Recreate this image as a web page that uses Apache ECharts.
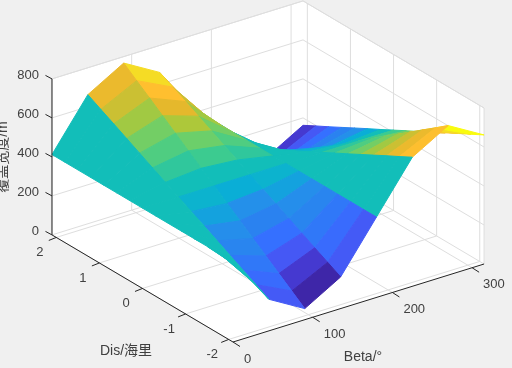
<!DOCTYPE html>
<html>
<head>
<meta charset="utf-8">
<title>覆盖宽度</title>
<style>
html, body { margin: 0; padding: 0; background: #f0f0f0; }
#main { width: 512px; height: 368px; }
</style>
<script src="https://cdn.jsdelivr.net/npm/echarts@6/dist/echarts.min.js"></script>
</head>
<body>
<div id="main"></div>
<script>
// 表面数据: 每个 beta 一列, 从 dis=-2.1 到 dis=2.1
var beta = [0, 45, 90, 135, 180, 225, 270, 315];
var dis = [-2.1, -1.8, -1.5, -1.2, -0.9, -0.6, -0.3, 0, 0.3, 0.6, 0.9, 1.2, 1.5, 1.8, 2.1];
var width0 = [412, 412, 412, 412, 412, 412, 412, 412, 412, 412, 412, 412, 412, 412, 412];
var width45 = [162, 198, 233, 269, 305, 341, 376, 412, 448, 483, 519, 555, 591, 626, 662];
var width90 = [57, 108, 158, 209, 260, 311, 361, 412, 463, 513, 564, 615, 666, 716, 767];
var width135 = [162, 198, 233, 269, 305, 341, 376, 412, 448, 483, 519, 555, 591, 626, 662];
var width180 = [412, 412, 412, 412, 412, 412, 412, 412, 412, 412, 412, 412, 412, 412, 412];
var width225 = [662, 626, 591, 555, 519, 483, 448, 412, 376, 341, 305, 269, 233, 198, 162];
var width270 = [767, 716, 666, 615, 564, 513, 463, 412, 361, 311, 260, 209, 158, 108, 57];
var width315 = [662, 626, 591, 555, 519, 483, 448, 412, 376, 341, 305, 269, 233, 198, 162];
var widths = [width0, width45, width90, width135, width180, width225, width270, width315];

var betaTicks = [0, 100, 200, 300];
var disTicks = [-2, -1, 0, 1, 2];
var zTicks = [0, 200, 400, 600, 800];
var betaLim = [0, 315];
var disLim = [-2.1, 2.1];
var zLim = [0, 800];

var parula = ['#3E26A8', '#4539D0', '#4558F5', '#3570FF', '#2A82F0', '#2490EA', '#0AAED6', '#12BEB9',
    '#3CCB90', '#6CCF6A', '#ADC83A', '#E5B82C', '#FFBF2F', '#F5DC25', '#F9FB0E'];

var gridColor = '#dedede';
var axisColor = '#262626';
var textColor = '#404040';
var fontLatin = '"Liberation Sans", Arial, sans-serif';
var fontCjk = '"Liberation Sans", "Noto Sans CJK SC", sans-serif';

// 正交投影, 三维坐标 -> 画布坐标
function project(b, d, z) {
    return [
        233 + (b - betaLim[0]) * 0.797 - (d - disLim[0]) * 43.1,
        342 - (b - betaLim[0]) * 0.2476 - (d - disLim[0]) * 25.5 - (z - zLim[0]) * 0.195
    ];
}

var zMin = Infinity, zMax = -Infinity;
widths.forEach(function (col) {
    col.forEach(function (v) {
        zMin = Math.min(zMin, v);
        zMax = Math.max(zMax, v);
    });
});

// 从远到近排列, 后画的盖住先画的
var facets = [];
for (var k = beta.length - 2; k >= 0; k--) {
    for (var j = dis.length - 2; j >= 0; j--) {
        facets.push([k, j]);
    }
}

var gridSegments = [];
betaTicks.forEach(function (b) {
    gridSegments.push([b, disLim[0], zLim[0], b, disLim[1], zLim[0]]);
    gridSegments.push([b, disLim[1], zLim[0], b, disLim[1], zLim[1]]);
});
disTicks.forEach(function (d) {
    gridSegments.push([betaLim[0], d, zLim[0], betaLim[1], d, zLim[0]]);
    gridSegments.push([betaLim[1], d, zLim[0], betaLim[1], d, zLim[1]]);
});
zTicks.forEach(function (z) {
    gridSegments.push([betaLim[0], disLim[1], z, betaLim[1], disLim[1], z]);
    gridSegments.push([betaLim[1], disLim[0], z, betaLim[1], disLim[1], z]);
});
// 墙的外框
gridSegments.push([betaLim[1], disLim[0], zLim[0], betaLim[1], disLim[0], zLim[1]]);
gridSegments.push([betaLim[0], disLim[1], zLim[1], betaLim[1], disLim[1], zLim[1]]);
gridSegments.push([betaLim[1], disLim[0], zLim[1], betaLim[1], disLim[1], zLim[1]]);

var axisSegments = [
    [betaLim[0], disLim[1], zLim[0], betaLim[0], disLim[1], zLim[1], 0, 0],
    [betaLim[0], disLim[0], zLim[0], betaLim[0], disLim[1], zLim[0], 0, 0],
    [betaLim[0], disLim[0], zLim[0], betaLim[1], disLim[0], zLim[0], 0, 0]
];
betaTicks.forEach(function (b) {
    axisSegments.push([b, disLim[0], zLim[0], b, disLim[0], zLim[0], 7, 4.5]);
});
disTicks.forEach(function (d) {
    axisSegments.push([betaLim[0], d, zLim[0], betaLim[0], d, zLim[0], -7.5, 3]);
});
zTicks.forEach(function (z) {
    axisSegments.push([betaLim[0], disLim[1], z, betaLim[0], disLim[1], z, -6.5, -3.5]);
});

var tickLabels = [];
betaTicks.forEach(function (b) {
    tickLabels.push([b, disLim[0], zLim[0], String(b), 11, 17, 'left']);
});
disTicks.forEach(function (d) {
    tickLabels.push([betaLim[0], d, zLim[0], String(d), -16.5, 15, 'center']);
});
zTicks.forEach(function (z) {
    tickLabels.push([betaLim[0], disLim[1], z, String(z), -13, -3, 'right']);
});

function toPixel(api, p) {
    return api.coord(p);
}

var option = {
    backgroundColor: '#f0f0f0',
    animation: false,
    grid: { left: 0, right: 0, top: 0, bottom: 0 },
    xAxis: { type: 'value', min: 0, max: 512, show: false },
    yAxis: { type: 'value', min: 0, max: 368, inverse: true, show: false },
    series: [
        {
            type: 'custom', name: 'walls', silent: true, clip: false,
            data: [[0]],
            renderItem: function (params, api) {
                var pts = [
                    project(betaLim[0], disLim[1], zLim[0]),
                    project(betaLim[0], disLim[0], zLim[0]),
                    project(betaLim[1], disLim[0], zLim[0]),
                    project(betaLim[1], disLim[0], zLim[1]),
                    project(betaLim[1], disLim[1], zLim[1]),
                    project(betaLim[0], disLim[1], zLim[1])
                ].map(function (p) { return toPixel(api, p); });
                return { type: 'polygon', shape: { points: pts }, style: { fill: '#fff' } };
            }
        },
        {
            type: 'custom', name: 'grid', silent: true, clip: false,
            data: gridSegments,
            renderItem: function (params, api) {
                var s = gridSegments[params.dataIndex];
                var a = toPixel(api, project(s[0], s[1], s[2]));
                var b = toPixel(api, project(s[3], s[4], s[5]));
                return {
                    type: 'line',
                    shape: { x1: a[0], y1: a[1], x2: b[0], y2: b[1] },
                    style: { stroke: gridColor, lineWidth: 1 }
                };
            }
        },
        {
            type: 'custom', name: '覆盖宽度', silent: true, clip: false,
            data: facets,
            renderItem: function (params, api) {
                var k = facets[params.dataIndex][0];
                var j = facets[params.dataIndex][1];
                var corner = function (kk, jj) {
                    return toPixel(api, project(beta[kk], dis[jj], widths[kk][jj]));
                };
                var color = echarts.color.lerp((widths[k][j] - zMin) / (zMax - zMin), parula);
                return {
                    type: 'polygon',
                    shape: { points: [corner(k, j), corner(k + 1, j), corner(k + 1, j + 1), corner(k, j + 1)] },
                    style: { fill: color, stroke: color, lineWidth: 1, lineJoin: 'round' }
                };
            }
        },
        {
            type: 'custom', name: 'axes', silent: true, clip: false,
            data: axisSegments,
            renderItem: function (params, api) {
                var s = axisSegments[params.dataIndex];
                var a = toPixel(api, project(s[0], s[1], s[2]));
                var b = toPixel(api, project(s[3], s[4], s[5]));
                return {
                    type: 'line',
                    shape: { x1: a[0], y1: a[1], x2: b[0] + s[6], y2: b[1] + s[7] },
                    style: { stroke: axisColor, lineWidth: 1 }
                };
            }
        },
        {
            type: 'custom', name: 'ticklabels', silent: true, clip: false,
            data: tickLabels,
            renderItem: function (params, api) {
                var s = tickLabels[params.dataIndex];
                var a = toPixel(api, project(s[0], s[1], s[2]));
                return {
                    type: 'text',
                    style: {
                        x: a[0] + s[4], y: a[1] + s[5], text: s[3],
                        fill: textColor, font: '13px ' + fontLatin,
                        textAlign: s[6], textVerticalAlign: 'middle'
                    }
                };
            }
        }
    ],
    graphic: [
        { type: 'text', x: 126, y: 351, style: { text: 'Dis/海里', fill: textColor, font: '14px ' + fontCjk, textAlign: 'center', textVerticalAlign: 'middle' } },
        { type: 'text', x: 363, y: 357, style: { text: 'Beta/°', fill: textColor, font: '14px ' + fontCjk, textAlign: 'center', textVerticalAlign: 'middle' } },
        { type: 'text', x: 3, y: 157, rotation: Math.PI / 2, style: { text: '覆盖宽度/m', fill: textColor, font: '14px ' + fontCjk, textAlign: 'center', textVerticalAlign: 'middle' } }
    ]
};

var chart = echarts.init(document.getElementById('main'));
chart.setOption(option);
</script>
</body>
</html>
